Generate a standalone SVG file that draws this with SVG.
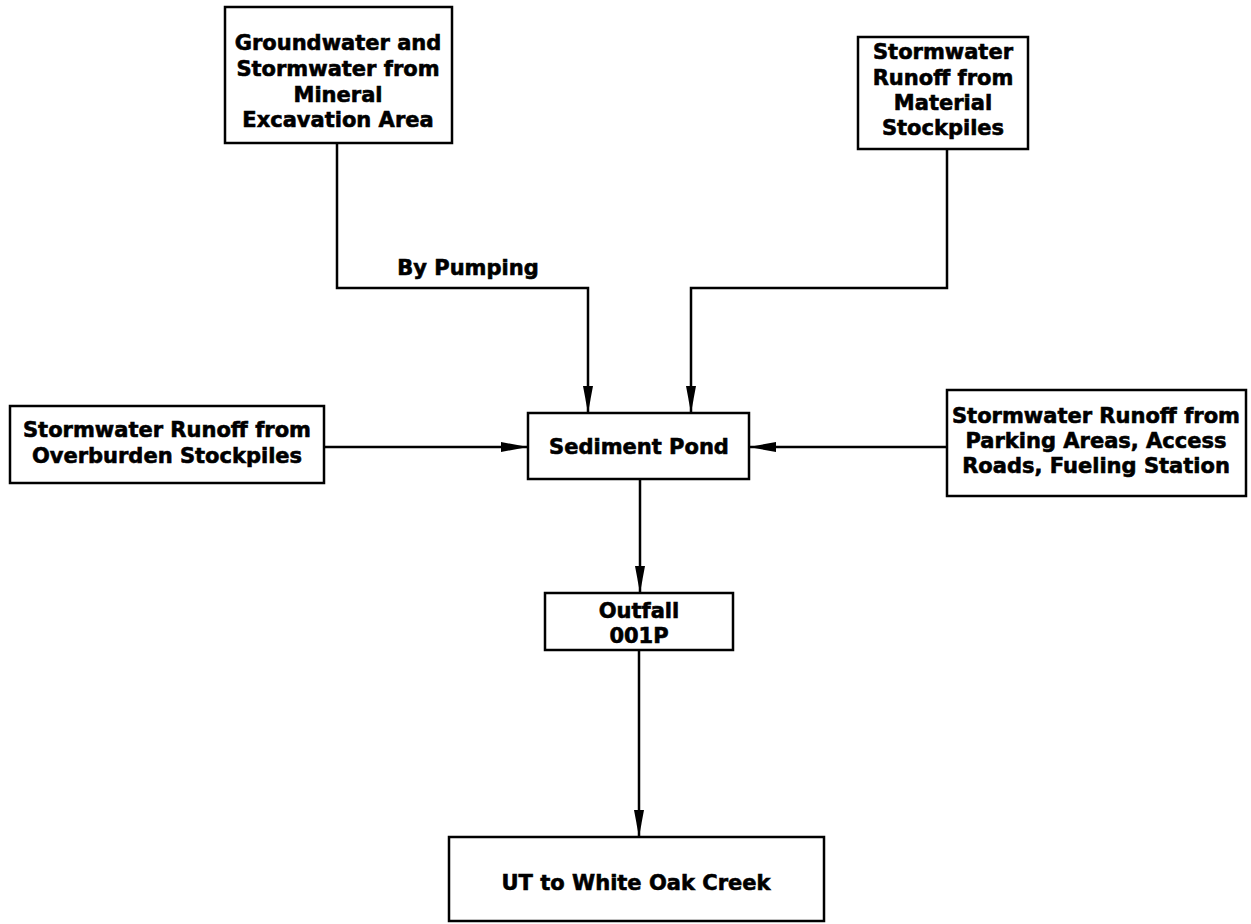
<svg xmlns="http://www.w3.org/2000/svg" width="1251" height="924" viewBox="0 0 1251 924">
<style>
.box{fill:#fff;stroke:#000;stroke-width:2.5}
.t{font-family:"DejaVu Sans","Liberation Sans",sans-serif;font-weight:bold;font-size:21px;fill:#000;stroke:#000;stroke-width:0.6;text-anchor:middle}
.c{fill:none;stroke:#000;stroke-width:2.5}
</style>
<defs>
<marker id="ah" markerUnits="userSpaceOnUse" markerWidth="28" markerHeight="12" refX="27" refY="5" orient="auto">
<path d="M0,0 L27,5 L0,10 Z" fill="#000"/>
</marker>
</defs>
<rect width="1251" height="924" fill="#fff"/>
<g id="n-groundwater">
<rect class="box" x="225" y="7" width="227" height="136"/>
<text class="t" x="338" y="50">Groundwater and</text>
<text class="t" x="338" y="76">Stormwater from</text>
<text class="t" x="338" y="102">Mineral</text>
<text class="t" x="338" y="127">Excavation Area</text>
</g>
<g id="n-material">
<rect class="box" x="858" y="37" width="170" height="112"/>
<text class="t" x="943" y="59">Stormwater</text>
<text class="t" x="943" y="85">Runoff from</text>
<text class="t" x="943" y="110">Material</text>
<text class="t" x="943" y="135">Stockpiles</text>
</g>
<g id="n-overburden">
<rect class="box" x="10" y="406" width="314" height="77"/>
<text class="t" x="167" y="437">Stormwater Runoff from</text>
<text class="t" x="167" y="463">Overburden Stockpiles</text>
</g>
<g id="n-sediment">
<rect class="box" x="528" y="413" width="221" height="66"/>
<text class="t" x="639" y="454">Sediment Pond</text>
</g>
<g id="n-parking">
<rect class="box" x="947" y="390" width="299" height="106"/>
<text class="t" x="1096" y="423">Stormwater Runoff from</text>
<text class="t" x="1096" y="448">Parking Areas, Access</text>
<text class="t" x="1096" y="473">Roads, Fueling Station</text>
</g>
<g id="n-outfall">
<rect class="box" x="545" y="593" width="188" height="57"/>
<text class="t" x="639" y="618">Outfall</text>
<text class="t" x="639" y="643">001P</text>
</g>
<g id="n-creek">
<rect class="box" x="449" y="837" width="375" height="84"/>
<text class="t" x="636" y="890">UT to White Oak Creek</text>
</g>
<g id="connectors">
<polyline class="c" points="337,143 337,288 588,288 588,413" marker-end="url(#ah)"/>
<polyline class="c" points="947,149 947,288 691,288 691,413" marker-end="url(#ah)"/>
<line class="c" x1="324" y1="447" x2="528" y2="447" marker-end="url(#ah)"/>
<line class="c" x1="947" y1="447" x2="749" y2="447" marker-end="url(#ah)"/>
<line class="c" x1="640" y1="479" x2="640" y2="593" marker-end="url(#ah)"/>
<line class="c" x1="639" y1="650" x2="639" y2="837" marker-end="url(#ah)"/>
<text class="t" x="468" y="275">By Pumping</text>
</g>
</svg>
